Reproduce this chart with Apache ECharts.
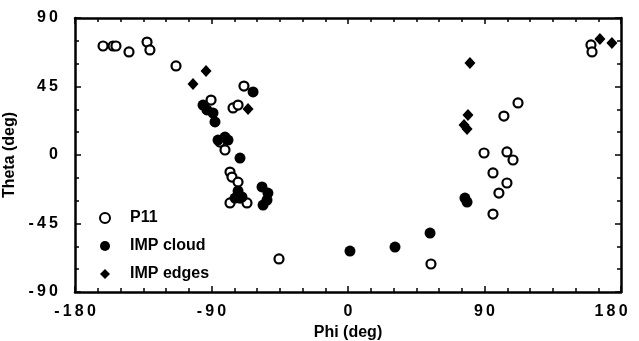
<!DOCTYPE html>
<html>
<head>
<meta charset="utf-8">
<script src="https://cdn.jsdelivr.net/npm/echarts@6/dist/echarts.min.js"></script>
<style>
  html, body { margin: 0; padding: 0; background: #fff; }
  #chart { width: 639px; height: 341px; }
</style>
</head>
<body>
<div id="chart"></div>
<script>
// [phi, theta] pairs
var p11 = [
  [-161.5, 71.6], [-154.9, 71.6], [-153, 71.6], [-144.4, 67.7], [-132.5, 74.2],
  [-130.6, 69.0], [-113.4, 58.5], [-68.6, 45.3], [-90.3, 36.1], [-75.8, 30.9],
  [-72.5, 32.8], [-84.4, 8.5], [-81.1, 3.3], [-77.8, -11.2], [-76.5, -14.5],
  [-72.5, -17.8], [-71.2, -28.3], [-77.8, -31.5], [-66.6, -31.5], [-45.5, -68.3],
  [54.7, -71.6], [95.6, -38.8], [112.1, 34.2], [102.8, 25.6], [89.7, 1.3],
  [104.8, 2.0], [108.8, -3.3], [95.6, -11.8], [104.8, -18.4], [99.5, -25.0],
  [160.2, 72.3], [160.9, 67.7]
];
var impCloud = [
  [-95.6, 32.8], [-93, 29.6], [-89, 27.6], [-87.7, 21.7], [-62.6, 41.4],
  [-85.7, 9.8], [-81.1, 11.8], [-79.1, 9.8], [-71.2, -2.0], [-72.5, -23.7],
  [-69.9, -27.6], [-74.5, -28.3], [-56.7, -21.0], [-52.8, -25.0], [-53.4, -29.6],
  [-56.0, -32.9], [1.3, -63.1], [31.0, -60.5], [54.1, -51.3], [77.1, -28.3],
  [78.5, -30.9]
];
var impEdges = [
  [-93.6, 55.2], [-102.2, 46.6], [-65.9, 30.2], [80.4, 60.4], [79.1, 26.3],
  [76.5, 19.7], [78.5, 17.1], [166.1, 76.2], [174, 73.6]
];
var seriesNames = ["P11", "IMP cloud", "IMP edges"];

var font = "Liberation Sans, Arial, sans-serif";
var chart = echarts.init(document.getElementById("chart"));

// spread the digits a little, like the original typesetting
function spaced(v) {
  return String(v).split("").join("\u2009");
}

function frameAxis(pos, min, max, interval, split, labels) {
  return {
    type: "value",
    position: pos,
    min: min,
    max: max,
    interval: interval,
    splitLine: { show: false },
    axisLine: { onZero: false, lineStyle: { color: "#000", width: 2.5 } },
    axisTick: { inside: true, length: 6, lineStyle: { color: "#000", width: 1.5 } },
    minorTick: { show: true, splitNumber: split, length: 4, lineStyle: { color: "#000", width: 1.5 } },
    axisLabel: {
      show: labels,
      color: "#000",
      fontFamily: font,
      fontSize: 16,
      fontWeight: "bold",
      formatter: spaced
    }
  };
}

var xMain = frameAxis("bottom", -180, 180, 90, 6, true);
xMain.name = "Phi (deg)";
xMain.nameLocation = "middle";
xMain.nameGap = 31;
xMain.nameTextStyle = { color: "#000", fontFamily: font, fontSize: 16, fontWeight: "bold" };
xMain.axisLabel.margin = 12;
// last label sits a little left of its tick in the original
xMain.axisLabel.formatter = function (v) {
  return v === 180 ? "{r|" + spaced(v) + "}" : spaced(v);
};
xMain.axisLabel.rich = {
  r: { fontFamily: font, fontSize: 16, fontWeight: "bold", color: "#000", padding: [0, 20, 0, 0] }
};

var yMain = frameAxis("left", -90, 90, 45, 3, true);
yMain.name = "Theta (deg)";
yMain.nameLocation = "middle";
yMain.nameGap = 57;
yMain.nameMoveOverlap = false;
yMain.nameTextStyle = { color: "#000", fontFamily: font, fontSize: 16, fontWeight: "bold" };
yMain.axisLabel.margin = 17;

var option = {
  animation: false,
  backgroundColor: "#fff",
  grid: { left: 75, right: 18, top: 18, bottom: 49, containLabel: false, outerBoundsMode: "none" },
  legend: {
    orient: "vertical",
    left: 94,
    top: 205,
    itemGap: 12,
    itemWidth: 10,
    itemHeight: 10,
    data: seriesNames,
    textStyle: { color: "#000", fontFamily: font, fontSize: 16, fontWeight: "bold", padding: [0, 0, 0, 15] }
  },
  xAxis: [xMain, frameAxis("top", -180, 180, 90, 6, false)],
  yAxis: [yMain, frameAxis("right", -90, 90, 45, 3, false)],
  series: [
    {
      name: seriesNames[0],
      type: "scatter",
      data: p11,
      symbol: "circle",
      symbolSize: 9,
      itemStyle: { color: "#fff", borderColor: "#000", borderWidth: 2.2, opacity: 1 }
    },
    {
      name: seriesNames[1],
      type: "scatter",
      data: impCloud,
      symbol: "circle",
      symbolSize: 11,
      itemStyle: { color: "#000", opacity: 1 }
    },
    {
      name: seriesNames[2],
      type: "scatter",
      data: impEdges,
      symbol: "diamond",
      symbolSize: [11, 12],
      itemStyle: { color: "#000", opacity: 1 }
    }
  ]
};
chart.setOption(option);
</script>
</body>
</html>
